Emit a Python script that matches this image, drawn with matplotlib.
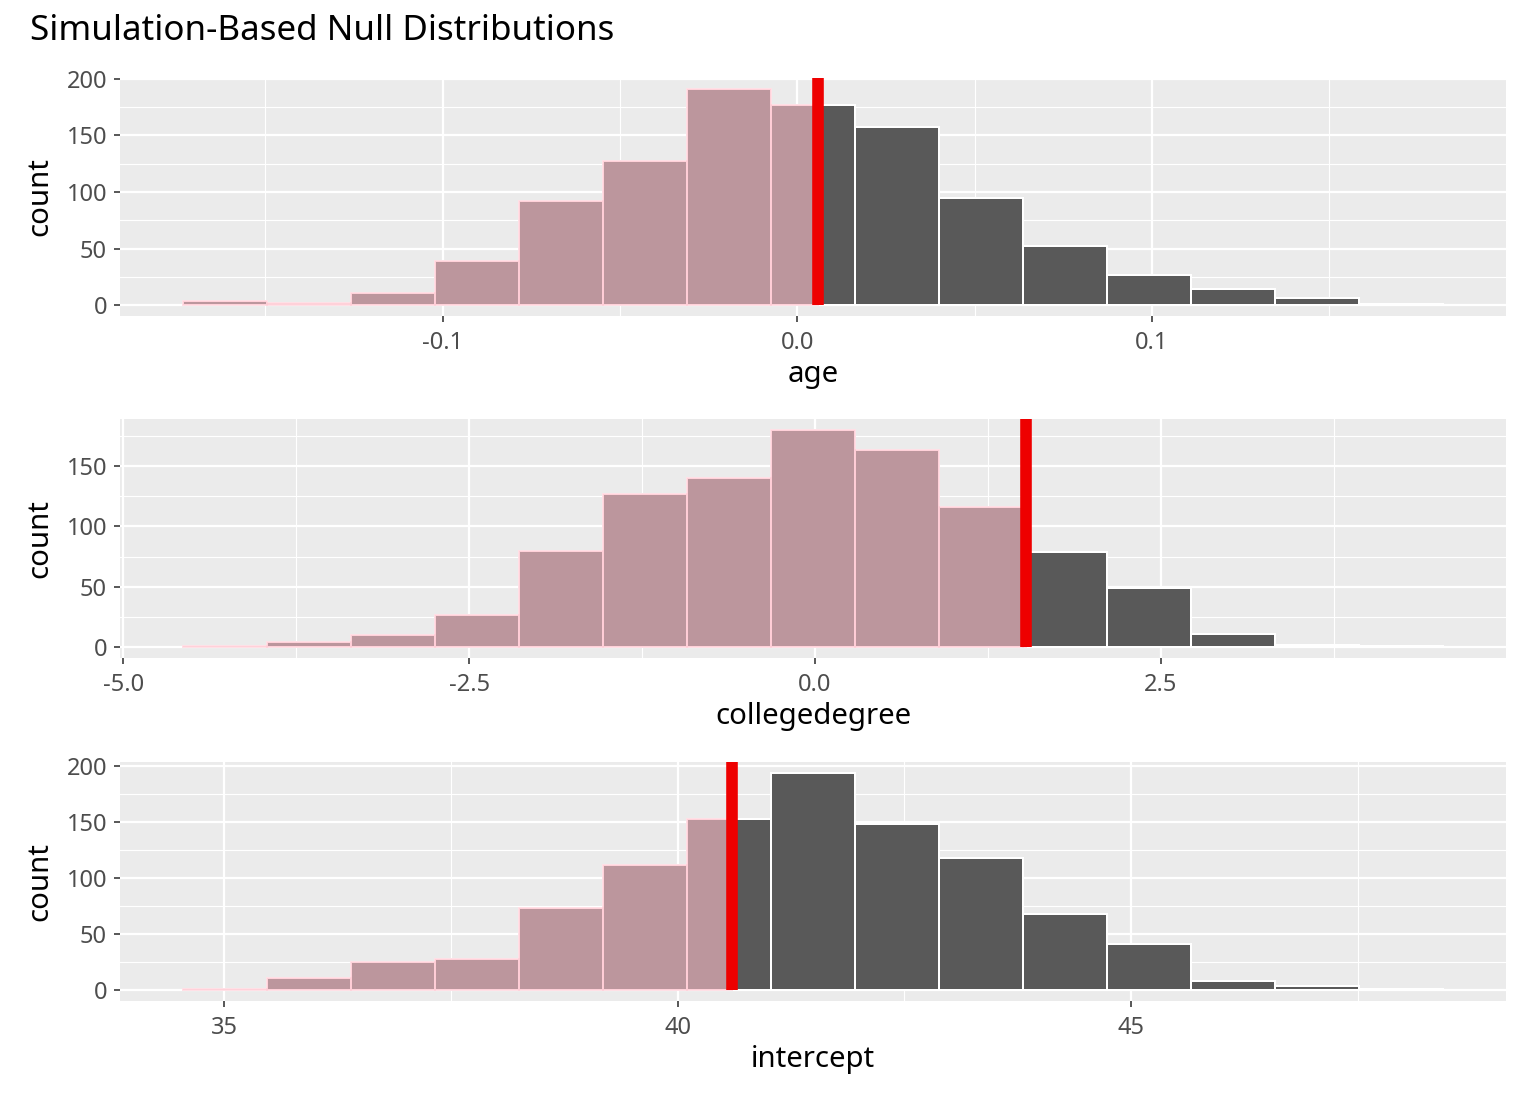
import numpy as np
import matplotlib
matplotlib.use("Agg")
import matplotlib.pyplot as plt
from matplotlib.ticker import MultipleLocator, AutoMinorLocator, FormatStrFormatter

plt.rcParams['font.family'] = ['Noto Sans', 'DejaVu Sans']
plt.rcParams['axes.unicode_minus'] = False

# ---- data ----
title = "Simulation-Based Null Distributions"

age_counts = [4, 2, 11, 39, 92, 127, 191, 177, 157, 95, 52, 27, 14, 6, 1]
age_range = (-0.1732, 0.1821)
age_obs = 0.0059

college_counts = [1, 4, 10, 27, 80, 127, 140, 180, 163, 116, 79, 49, 11, 2, 1]
college_range = (-4.569, 4.540)
college_obs = 1.528

intercept_counts = [1, 11, 25, 28, 73, 112, 153, 194, 148, 118, 68, 41, 8, 4, 1]
intercept_range = (34.546, 48.442)
intercept_obs = 40.598

panel_names = ["age", "collegedegree", "intercept"]
x_major_steps = [0.1, 2.5, 5]
x_formats = ['%.1f', '%.1f', '%d']

# ---- styling ----
W, H, DPI = 1536, 1104, 144
fig = plt.figure(figsize=(W / DPI, H / DPI), dpi=DPI)

panel_bg = '#EBEBEB'
dark = '#595959'
pink = (1.0, 0.753, 0.796, 0.6)
pink_edge = (1.0, 0.80, 0.84, 0.6)
tick_col = '#4D4D4D'

panels_px = [(78, 316), (419, 658), (762, 1001)]
left_px, right_px = 120, 1506

datasets = [(age_counts, age_range, age_obs),
            (college_counts, college_range, college_obs),
            (intercept_counts, intercept_range, intercept_obs)]

for i, ((counts, rng, obs), (top, bot)) in enumerate(zip(datasets, panels_px)):
    ax = fig.add_axes([left_px / W, 1 - bot / H, (right_px - left_px) / W, (bot - top) / H])
    counts = np.asarray(counts, dtype=float)
    edges = np.linspace(rng[0], rng[1], len(counts) + 1)
    lefts = edges[:-1]
    widths = np.diff(edges)

    ax.set_facecolor(panel_bg)
    for s in ax.spines.values():
        s.set_visible(False)

    # base histogram
    ax.bar(lefts, counts, width=widths, align='edge', color=dark,
           edgecolor='white', linewidth=1.0, zorder=2)
    # shaded part (values below observed statistic)
    sh_w = np.clip(np.minimum(edges[1:], obs) - lefts, 0, None)
    m = sh_w > 0
    ax.bar(lefts[m], counts[m], width=sh_w[m], align='edge', color=pink,
           edgecolor=pink_edge, linewidth=1.0, zorder=3)

    span = rng[1] - rng[0]
    cmax = counts.max()
    ylo, yhi = -0.05 * cmax, 1.05 * cmax
    # observed statistic (from zero to panel top)
    ax.vlines(obs, 0, yhi, color='#EE0000', linewidth=5.8, zorder=4)

    ax.set_xlim(rng[0] - 0.05 * span, rng[1] + 0.05 * span)
    ax.set_ylim(ylo, yhi)

    ax.xaxis.set_major_locator(MultipleLocator(x_major_steps[i]))
    ax.xaxis.set_minor_locator(AutoMinorLocator(2))
    ax.xaxis.set_major_formatter(FormatStrFormatter(x_formats[i]))
    ax.yaxis.set_major_locator(MultipleLocator(50))
    ax.yaxis.set_minor_locator(AutoMinorLocator(2))

    ax.grid(which='major', color='white', linewidth=1.1, zorder=1)
    ax.grid(which='minor', color='white', linewidth=0.55, zorder=1)
    ax.set_axisbelow(True)

    ax.tick_params(which='major', length=3, width=0.8, color='#333333',
                   labelsize=11.8, labelcolor=tick_col)
    ax.tick_params(axis='x', which='major', pad=4.5)
    ax.tick_params(axis='y', which='major', pad=3.5)
    ax.tick_params(which='minor', length=0)

    ax.set_xlabel(panel_names[i], fontsize=14.7, color='black', labelpad=2.5)
    ax.set_ylabel('count', fontsize=14.7, color='black', labelpad=6)

fig.text(30 / W, 1 - 31 / H, title, fontsize=17.5, color='black',
         ha='left', va='center')

fig.savefig('out.png', dpi=DPI)
